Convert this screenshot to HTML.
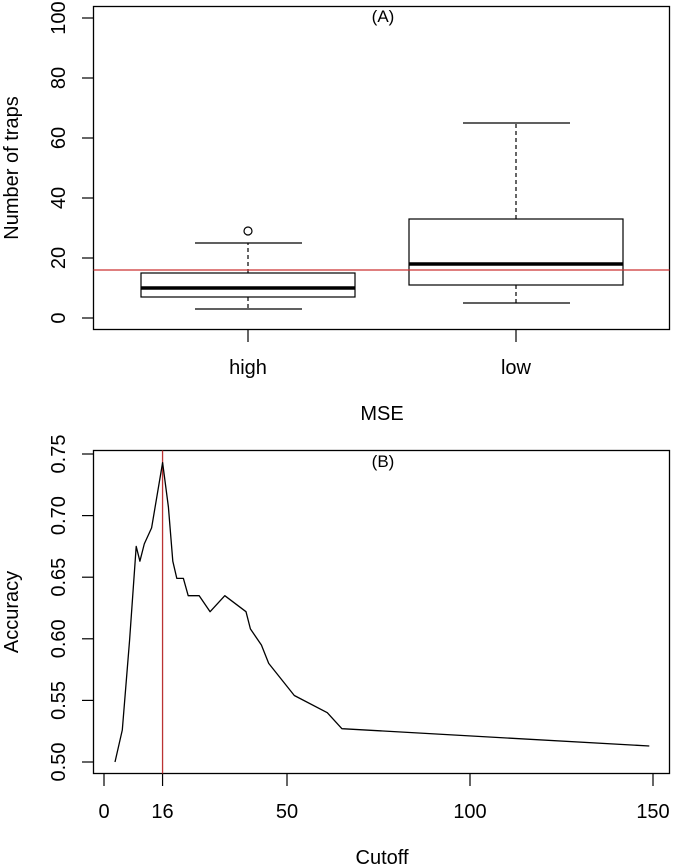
<!DOCTYPE html>
<html><head><meta charset="utf-8">
<style>
html,body{margin:0;padding:0;background:#fff;}
svg{display:block;font-family:"Liberation Sans",Arial,sans-serif;}
</style></head>
<body>
<svg id="c" width="674" height="868" viewBox="0 0 674 868" xmlns="http://www.w3.org/2000/svg"></svg>
<script>
// Panel A data
const groups = ["high", "low"];
const whiskerLow = [3, 5];
const q1 = [7, 11];
const medians = [10, 18];
const q3 = [15, 33];
const whiskerHigh = [25, 65];
const outliers = [[29], []];
const refLineA = 16;
const yTicksA = [0, 20, 40, 60, 80, 100];
// Panel B data
const cutoffs = [3, 5, 7, 8.8, 9.8, 11, 13, 16, 17.6, 18.8, 19.9, 21.7, 23, 26, 29, 33, 38.8, 40, 43, 45, 52, 61, 65, 149];
const accuracy = [0.500, 0.526, 0.599, 0.675, 0.663, 0.677, 0.690, 0.743, 0.707, 0.663, 0.649, 0.649, 0.635, 0.635, 0.622, 0.635, 0.622, 0.608, 0.595, 0.580, 0.554, 0.540, 0.527, 0.513];
const refLineB = 16;
const yTicksB = [0.50, 0.55, 0.60, 0.65, 0.70, 0.75];
const xTicksB = [0, 16, 50, 100, 150];

const FS = 20;
const svg = document.getElementById('c');
const NS = 'http://www.w3.org/2000/svg';
function mk(tag, attrs, parent){
  const e = document.createElementNS(NS, tag);
  for (const k in attrs) e.setAttribute(k, attrs[k]);
  (parent||svg).appendChild(e);
  return e;
}
function txt(x,y,s,size,rot,parent){
  const t = mk('text',{x:x,y:y,'font-size':size,'text-anchor':'middle',fill:'#000'},parent);
  if(rot) t.setAttribute('transform','rotate(-90 '+x+' '+y+')');
  t.textContent = s;
  return t;
}
// ---- Panel A ----
const yA = v => 318 - v*3.0;
const xA = i => 248 + i*268;
const gA = mk('g',{});


const frameA = mk('rect',{x:93.5,y:6.5,width:576,height:323,fill:'none',stroke:'#000','stroke-width':1.3},gA);


yTicksA.forEach(v=>{
  const l = mk('line',{x1:82,x2:93,y1:yA(v),y2:yA(v),stroke:'#000','stroke-width':1.2},gA);
  
  
  const t = txt(65,yA(v),String(v),FS,true,gA);
  
  
});
const yta = txt(18,168,'Number of traps',FS,true,gA);


const ta = txt(383,22,'(A)',17,false,gA);


const xta = txt(382,420,'MSE',FS,false,gA);


groups.forEach((g,i)=>{
  const cx = xA(i);
  const bg = mk('g',{},gA);
  
  
  mk('line',{x1:cx,x2:cx,y1:yA(q3[i]),y2:yA(whiskerHigh[i]),stroke:'#000','stroke-width':1.2,'stroke-dasharray':'4,3'},bg);
  mk('line',{x1:cx,x2:cx,y1:yA(q1[i]),y2:yA(whiskerLow[i]),stroke:'#000','stroke-width':1.2,'stroke-dasharray':'4,3'},bg);
  mk('line',{x1:cx-53,x2:cx+54,y1:yA(whiskerHigh[i]),y2:yA(whiskerHigh[i]),stroke:'#000','stroke-width':1.2},bg);
  mk('line',{x1:cx-53,x2:cx+54,y1:yA(whiskerLow[i]),y2:yA(whiskerLow[i]),stroke:'#000','stroke-width':1.2},bg);
  mk('rect',{x:cx-107,y:yA(q3[i]),width:214,height:yA(q1[i])-yA(q3[i]),fill:'#fff',stroke:'#000','stroke-width':1.2},bg);
  mk('line',{x1:cx-107,x2:cx+107,y1:yA(medians[i]),y2:yA(medians[i]),stroke:'#000','stroke-width':3.5},bg);
  outliers[i].forEach(o=>{
    const c = mk('circle',{cx:cx,cy:yA(o),r:4,fill:'none',stroke:'#000','stroke-width':1.2},bg);
    
    
  });
  const tk = mk('line',{x1:cx,x2:cx,y1:330,y2:342,stroke:'#000','stroke-width':1.2},gA);
  
  
  const lb = txt(cx,374,g,FS,false,gA);
  
  
});
const rlA = mk('line',{x1:93.5,x2:669.5,y1:yA(refLineA),y2:yA(refLineA),stroke:'#cc3333','stroke-width':1.2},gA);



// ---- Panel B ----
const yB = v => 762 - (v-0.50)*1232;
const xB = v => 104 + v*3.66;
const gB = mk('g',{});


const frameB = mk('rect',{x:93.5,y:450.5,width:576,height:323,fill:'none',stroke:'#000','stroke-width':1.3},gB);


yTicksB.forEach(v=>{
  const l = mk('line',{x1:82,x2:93,y1:yB(v),y2:yB(v),stroke:'#000','stroke-width':1.2},gB);
  
  
  const t = txt(65,yB(v),v.toFixed(2),FS,true,gB);
  
  
});
xTicksB.forEach(v=>{
  const l = mk('line',{x1:xB(v),x2:xB(v),y1:774,y2:786,stroke:'#000','stroke-width':1.2},gB);
  
  
  const t = txt(xB(v),818,String(v),FS,false,gB);
  
  
});
const ytb = txt(18,612,'Accuracy',FS,true,gB);


const xtb = txt(382,864,'Cutoff',FS,false,gB);


const tb = txt(383,467,'(B)',17,false,gB);


const rlB = mk('line',{x1:xB(refLineB),x2:xB(refLineB),y1:450.5,y2:773.5,stroke:'#b33',"stroke-width":1.3},gB);


const pts = cutoffs.map((c,i)=>xB(c).toFixed(1)+','+yB(accuracy[i]).toFixed(1)).join(' ');
const pl = mk('polyline',{points:pts,fill:'none',stroke:'#000','stroke-width':1.3,'stroke-linejoin':'round'},gB);


</script>
</body></html>
